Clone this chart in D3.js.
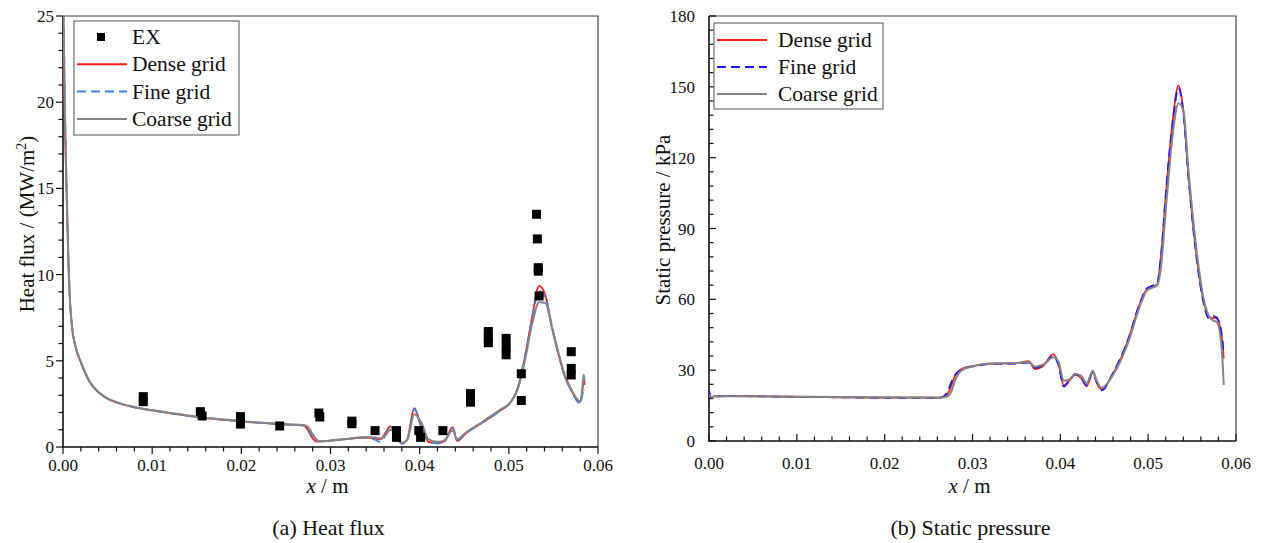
<!doctype html>
<html lang="en">
<head>
<meta charset="utf-8">
<title>Grid independence</title>
<script src="https://d3js.org/d3.v7.min.js"></script>
<style>
  body { margin: 0; background: #fff; }
  svg text { fill: #111; }
</style>
</head>
<body>
<svg id="chart" width="1261" height="543"></svg>
<script>
// ---- (a) heat flux, MW/m2 ----
var xHeat = [0, 0.0001, 0.0002, 0.0003, 0.0004, 0.0006, 0.0008, 0.001, 0.0014, 0.002,
  0.003, 0.004, 0.005, 0.006, 0.008, 0.010, 0.012, 0.015, 0.018, 0.020,
  0.023, 0.026, 0.0270, 0.0275, 0.0280, 0.0285, 0.0290, 0.0310, 0.0340, 0.0350,
  0.0356, 0.0362, 0.0367, 0.0373, 0.0380, 0.0386, 0.0394, 0.0402, 0.0410, 0.0420,
  0.0428, 0.0437, 0.0442, 0.0452, 0.0470, 0.0490, 0.0502, 0.0510, 0.0518, 0.0526,
  0.0534, 0.0541, 0.0548, 0.0555, 0.0563, 0.0570, 0.0576, 0.0580, 0.0582, 0.0584,
  0.0585];
var heatDense = [26, 22.5, 19.5, 16.8, 14.8, 10.8, 8.3, 7.0, 5.8, 4.9,
  3.75, 3.15, 2.8, 2.58, 2.3, 2.12, 1.96, 1.74, 1.58, 1.48,
  1.37, 1.28, 1.25, 0.95, 0.5, 0.32, 0.33, 0.42, 0.55, 0.5,
  0.45, 0.85, 1.2, 0.7, 0.2, 0.45, 2.25, 1.1, 0.3, 0.22,
  0.35, 1.15, 0.35, 0.8, 1.4, 2.1, 2.6, 3.4, 5.2, 7.5,
  9.35, 8.8, 7.0, 5.5, 4.05, 3.3, 2.8, 2.65, 3.0, 3.9,
  3.6];
var heatFine = [26, 24, 20.5, 17.5, 15.2, 11.0, 8.4, 7.05, 5.85, 4.92,
  3.76, 3.16, 2.8, 2.58, 2.3, 2.12, 1.96, 1.74, 1.58, 1.48,
  1.37, 1.28, 1.24, 1.05, 0.6, 0.36, 0.33, 0.42, 0.55, 0.42,
  0.28, 0.75, 1.18, 0.75, 0.2, 0.4, 2.2, 1.2, 0.35, 0.2,
  0.32, 1.1, 0.4, 0.8, 1.4, 2.1, 2.6, 3.45, 5.25, 7.4,
  9.05, 8.7, 7.1, 5.6, 4.1, 3.25, 2.7, 2.5, 2.9, 3.4,
  3.3];
var heatCoarse = [26, 23, 20, 17.2, 15, 10.9, 8.35, 7.0, 5.85, 4.95,
  3.8, 3.18, 2.82, 2.6, 2.32, 2.14, 1.98, 1.76, 1.6, 1.5,
  1.39, 1.3, 1.28, 1.15, 0.75, 0.4, 0.34, 0.43, 0.56, 0.55,
  0.5, 0.7, 1.0, 0.8, 0.25, 0.4, 1.9, 1.4, 0.45, 0.3,
  0.4, 0.95, 0.45, 0.85, 1.45, 2.15, 2.6, 3.35, 5.0, 7.1,
  8.4, 8.35, 7.0, 5.6, 4.15, 3.35, 2.8, 2.6, 3.2, 4.2,
  3.8];
// experiment
var exX = [0.0090, 0.0090, 0.0154, 0.0156, 0.0199, 0.0199, 0.0243, 0.0287, 0.0288, 0.0324,
  0.0324, 0.0350, 0.0374, 0.0374, 0.0399, 0.0401, 0.0426, 0.0457, 0.0457, 0.0477,
  0.0477, 0.0477, 0.0497, 0.0497, 0.0497, 0.0514, 0.0514, 0.0531, 0.0532, 0.0533,
  0.0533, 0.0534, 0.0570, 0.0570, 0.0570];
var exY = [2.92, 2.63, 2.05, 1.8, 1.76, 1.33, 1.22, 1.97, 1.74, 1.5,
  1.35, 0.95, 0.95, 0.56, 0.95, 0.56, 0.95, 3.1, 2.6, 6.7,
  6.3, 6.05, 6.3, 5.8, 5.35, 4.25, 2.7, 13.5, 12.07, 10.4,
  10.2, 8.76, 5.53, 4.56, 4.18];

// ---- (b) static pressure, kPa ----
var xPres = [0, 0.0003, 0.0006, 0.002, 0.008, 0.015, 0.021, 0.0263,
  0.0271, 0.0276, 0.0280, 0.0288, 0.0301, 0.0320, 0.0350,
  0.0364, 0.0371, 0.0381, 0.0392, 0.0398, 0.0404, 0.0410,
  0.0417, 0.0424, 0.0430, 0.0437, 0.0441, 0.0447,
  0.0460, 0.0476, 0.0491, 0.0498, 0.0505, 0.0510, 0.0514,
  0.0521, 0.0528, 0.05345, 0.0540, 0.0546, 0.0557,
  0.0563, 0.0569, 0.0574, 0.0578, 0.0582, 0.0585, 0.0586];
var presDense = [20.5, 18.2, 19.0, 19.0, 18.8, 18.5, 18.4, 18.4,
  19.6, 23.5, 27.5, 30.6, 31.8, 32.8, 33.0,
  33.8, 30.5, 32.0, 36.8, 32.5, 23.5, 25.5,
  28.0, 26.5, 23.2, 29.5, 25.0, 21.8,
  28.5, 41.5, 58.5, 64.0, 65.5, 66.0, 76.0,
  108, 136, 150.5, 140, 112, 73,
  59.5, 52.5, 52.0, 52.5, 48, 40, 35];
var presFine = [21.5, 17.8, 18.8, 19.0, 18.8, 18.5, 18.3, 18.3,
  20.5, 25.0, 28.0, 30.4, 31.6, 32.6, 32.8,
  33.2, 31.0, 32.2, 36.2, 32.0, 23.0, 25.5,
  28.2, 26.8, 23.5, 29.0, 25.5, 21.5,
  28.8, 41.8, 58.8, 64.5, 65.8, 66.5, 76.0,
  109, 135, 149.5, 139, 111, 72,
  58.5, 52.0, 53.0, 52.0, 49, 41, 37];
var presCoarse = [19.5, 18.6, 19.0, 19.0, 18.9, 18.6, 18.5, 18.4,
  18.8, 21.0, 25.5, 30.0, 31.7, 32.8, 33.0,
  33.5, 31.5, 32.5, 35.5, 33.5, 25.5, 26.0,
  28.5, 27.5, 24.5, 29.8, 26.0, 22.5,
  28.0, 40.5, 57.5, 63.5, 65.0, 65.8, 72.0,
  102, 130, 143, 140, 114, 75,
  60.5, 53.0, 51.0, 50.5, 45, 32, 23.7];

var heatYTicks = [0, 5, 10, 15, 20, 25];
var presYTicks = [0, 30, 60, 90, 120, 150, 180];
var xTicks = [0, 0.01, 0.02, 0.03, 0.04, 0.05, 0.06];

var FONT = "'Liberation Serif', 'Times New Roman', Times, Tinos, 'Noto Serif', 'Nimbus Roman', 'Nimbus Roman No9 L', FreeSerif, 'DejaVu Serif', serif";
var svg = d3.select("#chart");

function zip(xs, ys) { return xs.map(function(x, i) { return [x, ys[i]]; }); }

function label(sel, size) {
  return sel.style("font-family", FONT).style("font-size", size + "px");
}

function panel(cfg) {
  var x = d3.scaleLinear().domain([0, 0.06]).range([cfg.left, cfg.right]);
  var y = d3.scaleLinear().domain([0, cfg.ymax]).range([cfg.bottom, cfg.top]);
  var g = svg.append("g");
  var dir = cfg.inward ? -1 : 1;

  g.append("clipPath").attr("id", cfg.id + "clip").append("rect")
    .attr("x", cfg.left).attr("y", cfg.top)
    .attr("width", cfg.right - cfg.left).attr("height", cfg.bottom - cfg.top);

  // frame
  g.append("path").attr("fill", "none").attr("stroke", "#444").attr("stroke-width", 1.2)
    .attr("d", "M" + cfg.left + "," + cfg.top + "H" + cfg.right + "V" + cfg.bottom);

  // minor ticks
  var xMinor = d3.range(0, 61, 2).map(function(d) { return d / 1000; });
  g.selectAll(".xm").data(xMinor).enter().append("line")
    .attr("x1", function(d) { return x(d); }).attr("x2", function(d) { return x(d); })
    .attr("y1", cfg.bottom).attr("y2", function(d, i) { return cfg.bottom - dir * (i % 5 === 0 ? 7 : 4.5); })
    .attr("stroke", "#111").attr("stroke-width", 1.2);
  var yStep = cfg.ymax / (cfg.yTicks.length - 1) / 5;
  var yMinor = d3.range(0, (cfg.yTicks.length - 1) * 5 + 1).map(function(i) { return i * yStep; });
  g.selectAll(".ym").data(yMinor).enter().append("line")
    .attr("y1", function(d) { return y(d); }).attr("y2", function(d) { return y(d); })
    .attr("x1", cfg.left).attr("x2", function(d, i) { return cfg.left + dir * (i % 5 === 0 ? 7 : 4.5); })
    .attr("stroke", "#111").attr("stroke-width", 1.2);

  // axis lines
  g.append("path").attr("fill", "none").attr("stroke", "#111").attr("stroke-width", 1.6)
    .attr("d", "M" + cfg.left + "," + cfg.top + "V" + cfg.bottom + "H" + cfg.right);

  // tick labels
  label(g.selectAll(".xl").data(xTicks).enter().append("text")
    .attr("x", function(d) { return x(d); }).attr("y", cfg.bottom + cfg.xLabOff)
    .attr("text-anchor", "middle"), 17)
    .text(function(d) { return d3.format(".2f")(d); });
  label(g.selectAll(".yl").data(cfg.yTicks).enter().append("text")
    .attr("x", cfg.left - cfg.yLabOff).attr("y", function(d) { return y(d) + 6; })
    .attr("text-anchor", "end"), 17)
    .text(function(d) { return d; });

  // axis titles
  var xt = label(g.append("text").attr("x", (cfg.left + cfg.right) / 2 - 3).attr("y", 493)
    .attr("text-anchor", "middle"), 21);
  xt.append("tspan").style("font-style", "italic").text("x");
  xt.append("tspan").text(" / m");

  var yt = label(g.append("text").attr("transform", "translate(" + cfg.ytX + "," + cfg.ytY + ") rotate(-90)")
    .attr("text-anchor", "middle"), 21);
  cfg.yTitle(yt);

  label(g.append("text").attr("x", (cfg.left + cfg.right) / 2 - 2).attr("y", 535)
    .attr("text-anchor", "middle"), 22).text(cfg.caption);

  // curves
  var line = d3.line().x(function(d) { return x(d[0]); }).y(function(d) { return y(d[1]); })
    .curve(d3.curveMonotoneX);
  var plot = g.append("g").attr("clip-path", "url(#" + cfg.id + "clip)");
  cfg.series.forEach(function(s) {
    plot.append("path").datum(zip(s.xs, s.ys))
      .attr("fill", "none").attr("stroke", s.color).attr("stroke-width", s.width)
      .attr("stroke-dasharray", s.dash || null).attr("d", line);
  });
  if (cfg.points) {
    plot.selectAll(".ex").data(zip(cfg.points.xs, cfg.points.ys)).enter().append("rect")
      .attr("x", function(d) { return x(d[0]) - 4.5; }).attr("y", function(d) { return y(d[1]) - 4.5; })
      .attr("width", 9).attr("height", 9).attr("fill", "#000");
  }

  // legend
  var L = cfg.legend;
  g.append("rect").attr("x", L.x).attr("y", L.y).attr("width", L.w).attr("height", L.h)
    .attr("fill", "#fff").attr("stroke", "#555").attr("stroke-width", 1);
  L.items.forEach(function(it, i) {
    var yy = L.y + L.first + i * L.step;
    if (it.marker) {
      g.append("rect").attr("x", L.x + 23).attr("y", yy - 4).attr("width", 8).attr("height", 8).attr("fill", "#000");
    } else {
      g.append("line").attr("x1", L.x + 3).attr("x2", L.x + 53).attr("y1", yy).attr("y2", yy)
        .attr("stroke", it.color).attr("stroke-width", it.width).attr("stroke-dasharray", it.dash || null);
    }
    label(g.append("text").attr("x", L.x + L.tx).attr("y", yy + 7), 21.5).text(it.label);
  });
}

panel({
  id: "a", left: 63, right: 598, top: 16, bottom: 447, ymax: 25, yTicks: heatYTicks, inward: true,
  xLabOff: 24, yLabOff: 9, ytX: 34, ytY: 224, caption: "(a) Heat flux",
  yTitle: function(t) {
    t.append("tspan").text("Heat flux / (MW/m");
    t.append("tspan").attr("dy", -8).style("font-size", "14px").text("2");
    t.append("tspan").attr("dy", 8).text(")");
  },
  series: [
    { xs: xHeat, ys: heatDense, color: "#ff1a1a", width: 1.8 },
    { xs: xHeat, ys: heatFine, color: "#3a84e8", width: 1.8, dash: "9,5" },
    { xs: xHeat, ys: heatCoarse, color: "#858585", width: 2 }
  ],
  points: { xs: exX, ys: exY },
  legend: { x: 74, y: 21, w: 165, h: 114, first: 16, step: 27.3, tx: 58, items: [
    { label: "EX", marker: true },
    { label: "Dense grid", color: "#ff1a1a", width: 2 },
    { label: "Fine grid", color: "#3a84e8", width: 2, dash: "9,5" },
    { label: "Coarse grid", color: "#858585", width: 2 }
  ] }
});

panel({
  id: "b", left: 709, right: 1236, top: 16, bottom: 441, ymax: 180, yTicks: presYTicks, inward: false,
  xLabOff: 28, yLabOff: 14, ytX: 670, ytY: 220, caption: "(b) Static pressure",
  yTitle: function(t) { t.text("Static pressure / kPa"); },
  series: [
    { xs: xPres, ys: presDense, color: "#ff1a1a", width: 1.8 },
    { xs: xPres, ys: presFine, color: "#1a1aff", width: 1.8, dash: "9,5" },
    { xs: xPres, ys: presCoarse, color: "#858585", width: 2 }
  ],
  legend: { x: 714, y: 23, w: 169, h: 86, first: 17, step: 27, tx: 64, items: [
    { label: "Dense grid", color: "#ff1a1a", width: 2 },
    { label: "Fine grid", color: "#1a1aff", width: 2, dash: "9,5" },
    { label: "Coarse grid", color: "#858585", width: 2 }
  ] }
});
</script>
</body>
</html>
